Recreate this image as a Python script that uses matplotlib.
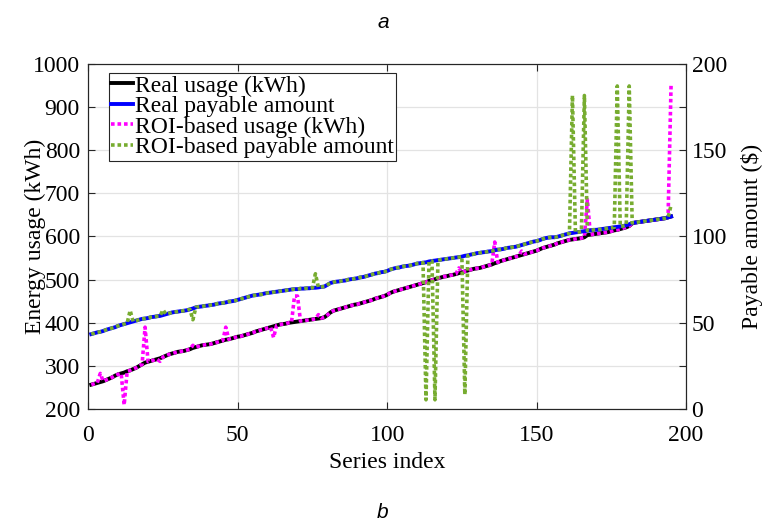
import matplotlib
matplotlib.use("Agg")
import matplotlib.pyplot as plt
import numpy as np

# ---------------- data ----------------
series_index = list(range(1, 196))

real_usage = [
    257, 259, 261, 263, 265, 268, 271, 274, 278, 281,
    283, 285, 288, 290, 293, 296, 300, 304, 308, 310,
    312, 314, 316, 318, 321, 324, 327, 329, 331, 333,
    334, 335, 337, 339, 342, 344, 346, 348, 349, 350,
    351, 353, 355, 357, 359, 361, 362, 364, 366, 368,
    369, 371, 373, 375, 377, 380, 382, 384, 386, 388,
    390, 392, 394, 396, 397, 398, 400, 401, 402, 403,
    404, 405, 406, 407, 408, 409, 410, 411, 413, 418,
    424, 428, 430, 432, 434, 436, 438, 440, 442, 443,
    445, 447, 449, 451, 453, 456, 458, 460, 462, 465,
    469, 472, 474, 476, 478, 480, 482, 484, 486, 488,
    490, 492, 494, 497, 499, 501, 503, 505, 507, 508,
    510, 511, 513, 515, 517, 519, 521, 523, 525, 526,
    527, 529, 531, 533, 535, 538, 540, 543, 545, 547,
    549, 551, 553, 555, 557, 559, 561, 563, 565, 567,
    570, 573, 575, 577, 579, 581, 584, 586, 588, 590,
    592, 593, 594, 595, 596, 598, 603, 604, 605, 606,
    607, 608, 609, 610, 612, 614, 615, 617, 619, 621,
    624, 630, 632, 633, 634, 635, 636, 637, 638, 639,
    640, 641, 642, 644, 646,
]

real_payable = [
    43.5, 44.0, 44.5, 44.8, 45.3, 46.0, 46.5, 47.0, 47.5, 48.3,
    48.8, 49.3, 49.8, 50.3, 50.8, 51.3, 51.8, 52.3, 52.5, 52.8,
    53.3, 53.5, 53.8, 54.0, 54.5, 55.0, 55.5, 56.0, 56.3, 56.5,
    56.8, 57.0, 57.3, 57.8, 58.3, 59.0, 59.3, 59.5, 59.8, 60.0,
    60.3, 60.5, 61.0, 61.3, 61.5, 61.8, 62.3, 62.5, 62.8, 63.3,
    63.8, 64.3, 64.8, 65.3, 65.8, 66.0, 66.3, 66.5, 67.0, 67.3,
    67.5, 67.8, 68.0, 68.3, 68.5, 68.8, 69.0, 69.3, 69.5, 69.5,
    69.8, 69.8, 70.0, 70.0, 70.3, 70.3, 70.5, 70.8, 71.0, 72.0,
    73.0, 73.5, 73.8, 74.0, 74.3, 74.5, 75.0, 75.3, 75.5, 75.8,
    76.3, 76.5, 77.0, 77.5, 78.0, 78.5, 78.8, 79.3, 79.5, 80.0,
    80.8, 81.3, 81.8, 82.0, 82.5, 82.8, 83.0, 83.3, 83.8, 84.3,
    84.5, 84.8, 85.0, 85.5, 85.8, 86.0, 86.3, 86.5, 86.8, 87.0,
    87.3, 87.5, 87.8, 88.0, 88.3, 88.8, 89.0, 89.5, 89.8, 90.3,
    90.5, 90.8, 91.0, 91.3, 91.5, 92.0, 92.3, 92.5, 92.8, 93.3,
    93.5, 93.8, 94.0, 94.5, 95.0, 95.5, 96.0, 96.5, 97.0, 97.3,
    97.8, 98.5, 99.0, 99.3, 99.5, 99.5, 99.8, 100.3, 100.8, 101.3,
    101.8, 102.0, 102.3, 102.5, 102.8, 103.0, 103.3, 103.5, 103.8, 103.8,
    104.0, 104.3, 104.5, 104.8, 105.0, 105.3, 105.5, 105.8, 106.0, 106.5,
    107.0, 107.8, 108.0, 108.3, 108.5, 108.8, 109.0, 109.3, 109.5, 109.8,
    110.0, 110.3, 110.5, 111.0, 111.5,
]

# ROI-based estimates: equal to the real series except at these indices
roi_usage_outliers = {4: 283, 12: 210, 19: 390, 24: 311, 35: 348, 46: 390,
                      62: 366, 69: 462, 70: 462, 77: 419, 124: 527,
                      136: 587, 145: 566, 167: 685, 195: 950}
roi_payable_outliers = {14: 57.2, 25: 57.5, 35: 51.8, 76: 78.4,
                        113: 5.5, 116: 5.5, 126: 8.5,
                        162: 181.5, 166: 181.5, 177: 187.0, 181: 187.0,
                        195: 118.0}

roi_usage = [roi_usage_outliers.get(i, v) for i, v in zip(series_index, real_usage)]
roi_payable = [roi_payable_outliers.get(i, v) for i, v in zip(series_index, real_payable)]

labels = ["Real usage (kWh)", "Real payable amount",
          "ROI-based usage (kWh)", "ROI-based payable amount"]

# ---------------- plot ----------------
serif = ["Liberation Serif", "DejaVu Serif"]
plt.rcParams["font.family"] = serif
FS = 17

W, H = 766, 524
fig = plt.figure(figsize=(W / 100, H / 100), dpi=100)
left_px, right_px, top_px, bot_px = 88.3, 686.0, 63.5, 409.3
ax = fig.add_axes([left_px / W, 1 - bot_px / H,
                   (right_px - left_px) / W, (bot_px - top_px) / H])
ax2 = ax.twinx()

dots = (0, (1.0, 0.8))
l1, = ax.plot(series_index, real_usage, color="black", lw=2.8, zorder=2)
l3, = ax.plot(series_index, roi_usage, color="#FF00FF", lw=2.6,
              linestyle=dots, zorder=3)
l2, = ax2.plot(series_index, real_payable, color="#0000FF", lw=2.8, zorder=2)
l4, = ax2.plot(series_index, roi_payable, color="#77AC30", lw=2.6,
               linestyle=dots, zorder=3)

ax.set_xlim(0, 200)
ax.set_ylim(200, 1000)
ax2.set_ylim(0, 200)
ax.set_xticks([0, 50, 100, 150, 200])
ax.set_yticks(range(200, 1001, 100))
ax2.set_yticks(range(0, 201, 50))
ax2.set_yticks(range(25, 200, 50), minor=True)

ax.grid(True, color="#e3e3e3", lw=0.9)
ax.set_axisbelow(True)

for a in (ax, ax2):
    for s in a.spines.values():
        s.set_color("#262626")
        s.set_linewidth(0.8)
ax.tick_params(axis="both", direction="in", length=5, width=0.8,
               labelsize=FS, top=True, right=False, colors="#262626",
               labelcolor="black")
ax.tick_params(axis="x", pad=11)
ax.tick_params(axis="y", pad=6)
ax2.tick_params(axis="y", which="both", direction="in", length=5, width=0.8,
                labelsize=FS, pad=4, colors="#262626", labelcolor="black")

ax.set_xlabel("Series index", fontsize=FS)
ax.set_ylabel("Energy usage (kWh)", fontsize=FS)
ax2.set_ylabel("Payable amount ($)", fontsize=FS)
ax.xaxis.set_label_coords(0.5, (bot_px - 462) / (bot_px - top_px))
ax.yaxis.set_label_coords((35 - left_px) / (right_px - left_px), 0.5)
ax2.yaxis.set_label_coords((752 - left_px) / (right_px - left_px), 0.5)
ax.xaxis.label.set_va("center")
ax.yaxis.label.set_va("center")
ax2.yaxis.label.set_va("center")

leg = ax2.legend([l1, l2, l3, l4], labels, loc="upper left",
                 bbox_to_anchor=((109 - left_px) / (right_px - left_px),
                                 (bot_px - 72.7) / (bot_px - top_px)),
                 fontsize=FS, frameon=True, fancybox=False, framealpha=1,
                 edgecolor="#262626", borderpad=0.1, labelspacing=-0.04,
                 handlelength=0.9, handletextpad=0.1, borderaxespad=0)
leg.get_frame().set_linewidth(0.8)

fig.text(0.5, 1 - 22 / H, "a", ha="center", va="center", fontsize=15,
         style="italic", family=["Liberation Sans", "DejaVu Sans"])
fig.text(0.5, 1 - 513 / H, "b", ha="center", va="center", fontsize=15,
         style="italic", family=["Liberation Sans", "DejaVu Sans"])

fig.savefig("out.png", dpi=100)
